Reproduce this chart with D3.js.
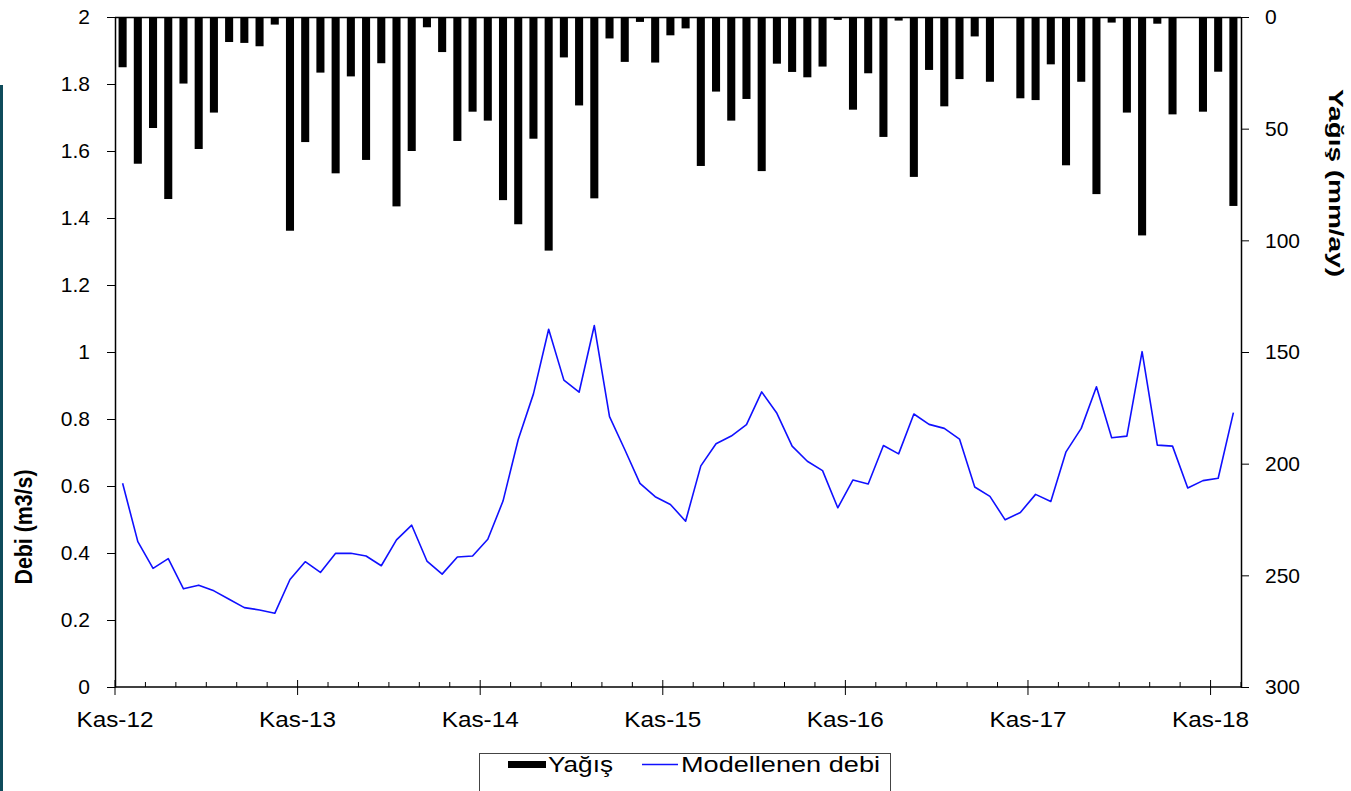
<!DOCTYPE html>
<html>
<head>
<meta charset="utf-8">
<script src="https://cdn.jsdelivr.net/npm/d3@7"></script>
<style>
  body { margin: 0; background: #fff; }
  svg { display: block; font-family: "Liberation Sans", Arial, sans-serif; }
</style>
</head>
<body>
<svg id="chart" width="1351" height="791"></svg>
<script>
// Turkish month abbreviations, series runs Kas-12 .. Ara-18
const monthNames = ['Oca', 'Şub', 'Mar', 'Nis', 'May', 'Haz', 'Tem', 'Ağu', 'Eyl', 'Eki', 'Kas', 'Ara'];
const months = [];
for (let y = 2012, m = 10; months.length < 74; m++) {
  if (m == 12) { m = 0; y++; }
  months.push(`${monthNames[m]}-${String(y).slice(2)}`);
}

// monthly rainfall, mm/ay (right axis, reversed)
const yagis = [
  22.5, 65.7, 49.7, 81.5, 29.8, 59.1, 42.8, 11.2, 11.6, 13.1, 3.4, 95.7,
  56.0, 24.9, 70.0, 26.6, 64.0, 20.7, 84.8, 60.0, 4.6, 15.7, 55.5, 42.4,
  46.4, 82.0, 92.8, 54.5, 104.6, 18.1, 39.6, 81.2, 9.6, 20.1, 2.2, 20.4,
  8.2, 5.1, 66.7, 33.4, 46.4, 36.7, 69.0, 20.9, 24.6, 27.0, 22.2, 1.3,
  41.5, 25.2, 53.7, 1.6, 71.6, 23.7, 40.0, 27.8, 8.7, 29.0, 0, 36.4,
  37.2, 21.2, 66.4, 29.0, 79.3, 2.5, 42.8, 97.8, 3.0, 43.6, 0, 42.4,
  24.5, 84.6
];

// modelled discharge, m3/s (left axis)
const debi = [
  0.608, 0.434, 0.354, 0.383, 0.293, 0.304, 0.287, 0.262, 0.237, 0.230, 0.220, 0.321,
  0.374, 0.342, 0.399, 0.399, 0.391, 0.362, 0.439, 0.483, 0.376, 0.337, 0.388, 0.391,
  0.441, 0.555, 0.739, 0.875, 1.068, 0.916, 0.880, 1.079, 0.807, 0.709, 0.608, 0.568,
  0.545, 0.495, 0.660, 0.726, 0.749, 0.783, 0.881, 0.817, 0.719, 0.674, 0.646, 0.535,
  0.618, 0.606, 0.721, 0.696, 0.815, 0.784, 0.772, 0.740, 0.597, 0.569, 0.499, 0.521,
  0.575, 0.554, 0.702, 0.772, 0.896, 0.744, 0.749, 1.001, 0.722, 0.719, 0.594, 0.616,
  0.623, 0.819
];

const leftTicks = [0, 0.2, 0.4, 0.6, 0.8, 1, 1.2, 1.4, 1.6, 1.8, 2];
const rightTicks = [0, 50, 100, 150, 200, 250, 300];

const margin = {left: 115, right: 110, top: 17, bottom: 104};
const width = 1351, height = 791;
const x0 = margin.left, x1 = width - margin.right;
const y0 = height - margin.bottom, y1 = margin.top;

const svg = d3.select('#chart');

// dark strip on the left edge of the original picture
svg.append('rect')
  .attr('x', 0).attr('y', 85)
  .attr('width', 3).attr('height', height - 85)
  .attr('fill', '#0f4b5b');

const xBand = d3.scaleBand().domain(months).range([x0, x1]).paddingInner(0.47).paddingOuter(0.235);
const xIndex = d3.scaleLinear().domain([0, months.length]).range([x0, x1]);
const yLeft = d3.scaleLinear().domain([0, 2]).range([y0, y1]);
const yRight = d3.scaleLinear().domain([0, 300]).range([y1, y0]);

// bars hang from the top
svg.append('g')
  .selectAll('rect')
  .data(yagis)
  .join('rect')
    .attr('x', (_, i) => xBand(months[i]))
    .attr('y', yRight(0))
    .attr('width', xBand.bandwidth())
    .attr('height', d => yRight(d) - yRight(0))
    .attr('fill', '#000');

// top baseline of the bars
svg.append('line')
  .attr('x1', x0).attr('x2', x1)
  .attr('y1', y1 + 0.5).attr('y2', y1 + 0.5)
  .attr('stroke', '#000').attr('stroke-width', 1.5);

const line = d3.line()
  .x((_, i) => xIndex(i + 0.5))
  .y(d => yLeft(d));

svg.append('path')
  .datum(debi)
  .attr('fill', 'none')
  .attr('stroke', '#1010ff')
  .attr('stroke-width', 1.6)
  .attr('stroke-linejoin', 'round')
  .attr('d', line);

const fontSize = 21;

// left axis
svg.append('g')
  .attr('transform', `translate(${x0},0)`)
  .call(d3.axisLeft(yLeft).tickValues(leftTicks).tickSize(8).tickPadding(17).tickSizeOuter(0)
    .tickFormat(d => String(d)))
  .call(g => g.selectAll('text').attr('font-size', fontSize).attr('fill', '#000').attr('font-family', null))
  .call(g => g.select('.domain').attr('stroke-width', 1.5));

// right axis
svg.append('g')
  .attr('transform', `translate(${x1},0)`)
  .call(d3.axisRight(yRight).tickValues(rightTicks).tickSize(8).tickPadding(16).tickSizeOuter(0))
  .call(g => g.selectAll('text').attr('font-size', fontSize).attr('fill', '#000').attr('font-family', null))
  .call(g => g.select('.domain').attr('stroke-width', 1.5));

// bottom axis: minor ticks every 2 months pointing in, yearly ticks with labels
const xAxis = svg.append('g').attr('transform', `translate(0,${y0})`);
xAxis.append('line')
  .attr('x1', x0).attr('x2', x1)
  .attr('stroke', '#000').attr('stroke-width', 1.5);
const minor = d3.range(0, months.length + 1, 2).filter(i => i % 12 != 0);
xAxis.selectAll('.minor')
  .data(minor)
  .join('line')
    .attr('class', 'minor')
    .attr('x1', i => xIndex(i)).attr('x2', i => xIndex(i))
    .attr('y1', -5).attr('y2', 0)
    .attr('stroke', '#000');
const major = d3.range(0, months.length, 12);
xAxis.selectAll('.major')
  .data(major)
  .join('line')
    .attr('class', 'major')
    .attr('x1', i => xIndex(i)).attr('x2', i => xIndex(i))
    .attr('y1', -7).attr('y2', 8)
    .attr('stroke', '#000');
xAxis.selectAll('text')
  .data(major)
  .join('text')
    .attr('x', i => xIndex(i) - 38.5)
    .attr('y', 40)
    .attr('font-size', 22)
    .attr('textLength', 77)
    .attr('lengthAdjust', 'spacingAndGlyphs')
    .text(i => months[i]);

// axis titles
svg.append('text')
  .attr('transform', `translate(32,527) rotate(-90)`)
  .attr('x', -57.5)
  .attr('font-size', 24)
  .attr('font-weight', 'bold')
  .attr('textLength', 115)
  .attr('lengthAdjust', 'spacingAndGlyphs')
  .text('Debi (m3/s)');

svg.append('text')
  .attr('transform', `translate(1329,183) rotate(90)`)
  .attr('x', -94)
  .attr('font-size', 21)
  .attr('font-weight', 'bold')
  .attr('textLength', 188)
  .attr('lengthAdjust', 'spacingAndGlyphs')
  .text('Yağış (mm/ay)');

// legend
const legend = svg.append('g');
legend.append('rect')
  .attr('x', 479.5).attr('y', 753.5)
  .attr('width', 411).attr('height', 50)
  .attr('fill', '#fff')
  .attr('stroke', '#444');
legend.append('rect')
  .attr('x', 508).attr('y', 761)
  .attr('width', 38).attr('height', 7)
  .attr('fill', '#000');
legend.append('text')
  .attr('x', 548).attr('y', 772)
  .attr('font-size', 22)
  .attr('textLength', 65)
  .attr('lengthAdjust', 'spacingAndGlyphs')
  .text('Yağış');
legend.append('line')
  .attr('x1', 642).attr('x2', 678)
  .attr('y1', 764.5).attr('y2', 764.5)
  .attr('stroke', '#1010ff').attr('stroke-width', 1.5);
legend.append('text')
  .attr('x', 681).attr('y', 772)
  .attr('font-size', 22)
  .attr('textLength', 199)
  .attr('lengthAdjust', 'spacingAndGlyphs')
  .text('Modellenen debi');
</script>
</body>
</html>
